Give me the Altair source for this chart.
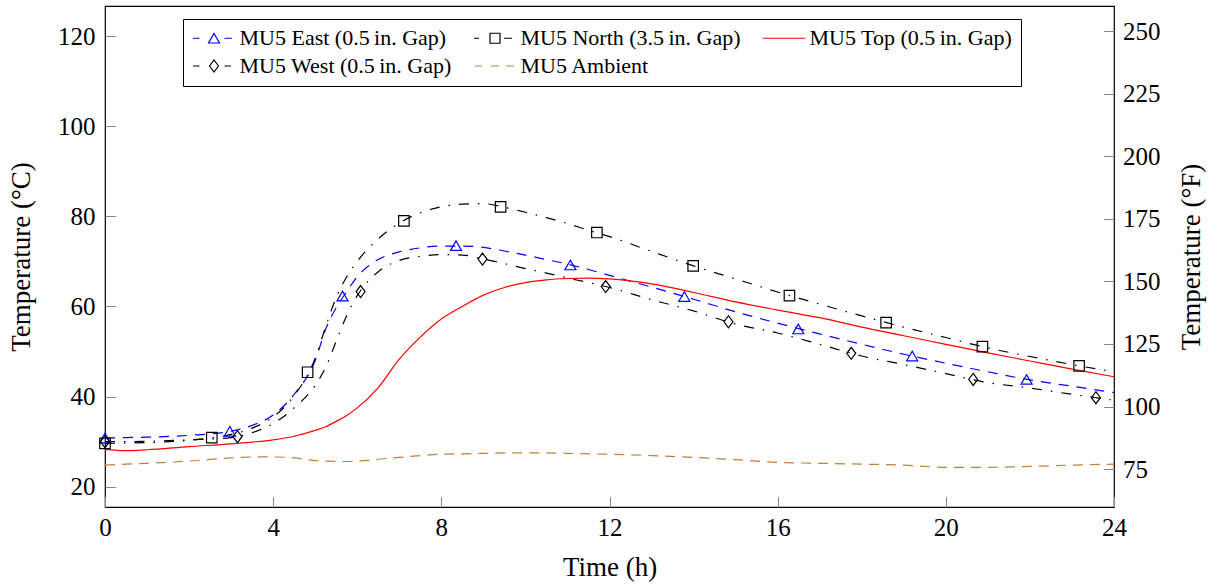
import altair as alt
import pandas as pd

FONT = "Liberation Serif"

TIME = [0, 0.5, 1, 2, 3, 3.5, 4, 4.5, 5, 5.25, 5.5, 5.75, 6, 6.5, 7, 7.5, 8, 8.5, 9, 9.5,
        10, 10.5, 11, 11.5, 12, 13, 14, 15, 16, 17, 18, 19, 20, 21, 22, 23, 24]
EAST = [30.8, 30.9, 31.0, 31.4, 32.3, 33.6, 35.9, 40.5, 48.0, 55.0, 59.7, 63.3, 66.6, 70.4, 72.1,
        73.0, 73.4, 73.4, 73.1, 72.3, 71.4, 70.4, 69.4, 68.2, 66.9, 64.3, 61.6, 58.8, 56.3, 53.9,
        51.6, 49.4, 47.4, 45.5, 43.7, 42.3, 40.9]
NORTH = [29.6, 29.7, 29.8, 30.3, 31.6, 33.0, 35.5, 40.2, 48.5, 55.5, 62.0, 66.6, 70.0, 75.0, 78.5,
         80.8, 82.1, 82.7, 82.8, 82.0, 80.9, 79.7, 78.4, 76.9, 75.5, 72.2, 69.0, 66.1, 63.2, 60.5,
         57.9, 55.4, 53.1, 50.8, 48.9, 47.1, 45.5]
TOP = [28.3, 28.0, 28.2, 28.9, 29.5, 29.9, 30.4, 31.2, 32.5, 33.3, 34.5, 35.8, 37.5, 42.0, 48.3,
       53.2, 57.2, 60.0, 62.5, 64.2, 65.3, 65.9, 66.2, 66.3, 66.1, 65.0, 63.1, 61.0, 59.2, 57.5,
       55.4, 53.5, 51.6, 49.7, 47.9, 46.1, 44.4]
WEST = [30.0, 30.0, 30.1, 30.4, 30.9, 32.0, 34.0, 37.5, 42.5, 46.5, 52.3, 58.0, 62.4, 67.7, 70.2,
        71.1, 71.5, 71.4, 70.5, 69.5, 68.4, 67.4, 66.3, 65.3, 64.2, 61.5, 59.0, 56.1, 54.1, 51.6,
        49.0, 47.1, 45.1, 43.1, 41.9, 40.5, 39.2]
AMBIENT = [24.8, 25.0, 25.2, 25.7, 26.4, 26.6, 26.6, 26.4, 25.8, 25.7, 25.6, 25.6, 25.7, 26.1, 26.5,
           26.9, 27.2, 27.3, 27.4, 27.5, 27.5, 27.5, 27.4, 27.3, 27.2, 26.9, 26.5, 26.0, 25.4, 25.2,
           25.0, 24.8, 24.3, 24.3, 24.5, 24.8, 25.0]

EAST_MK_T = [0, 2.97, 5.65, 8.35, 11.07, 13.78, 16.49, 19.2, 21.92]
EAST_MK_V = [30.8, 32.3, 62.3, 73.5, 69.2, 62.2, 55.0, 49.0, 43.8]
NORTH_MK_T = [0, 2.54, 4.82, 7.11, 9.41, 11.7, 13.99, 16.28, 18.58, 20.87, 23.17]
NORTH_MK_V = [29.6, 30.9, 45.4, 79.0, 82.1, 76.4, 69.0, 62.4, 56.4, 51.1, 46.8]
WEST_MK_T = [0, 3.15, 6.08, 8.98, 11.91, 14.83, 17.75, 20.65, 23.57]
WEST_MK_V = [30.0, 31.1, 63.3, 70.5, 64.4, 56.6, 49.6, 43.8, 39.75]

SERIES = ["MU5 East (0.5\u2009in. Gap)", "MU5 North (3.5\u2009in. Gap)", "MU5 Top (0.5\u2009in. Gap)",
          "MU5 West (0.5\u2009in. Gap)", "MU5 Ambient"]
COLORS = ["#0000ff", "#000000", "#ff0000", "#000000", "#bf8040"]
DASHES = [[10, 8], [10, 9, 1.5, 9], None, [10, 9, 1.5, 9], [10, 7]]
LEGEND_SHAPES = [
    "M-4.2,0H-2.9M2.1,0H3.6M0,-0.95L1.1,0.95L-1.1,0.95Z",
    "M-4.2,0H-3.2M1.8,0H3.4M-1,-1H1V1H-1Z",
    "M-4.3,0H4.3",
    "M-4.2,0H-2.9M2.1,0H3.4M0,-1.2L0.9,0L0,1.2L-0.9,0Z",
    "M-4,0H-2.6M-0.8,0H0.8M2.2,0H3.8",
]
DIAMOND = "M0,-1.2L0.9,0L0,1.2L-0.9,0Z"

X_TICKS = [0, 4, 8, 12, 16, 20, 24]
C_TICKS = [20, 40, 60, 80, 100, 120]
F_TICKS = [75, 100, 125, 150, 175, 200, 225, 250]
C_DOMAIN = [15.5, 126.66]
F_DOMAIN = [59.9, 259.99]

xenc = alt.X("t:Q", scale=alt.Scale(domain=[0, 24], nice=False, zero=False),
             axis=alt.Axis(values=X_TICKS, title="Time (h)", format="d", offset=-10.5, tickSize=10.5,
                           domain=False, grid=False, labelPadding=8, titlePadding=14,
                           labelFlush=False, labelOverlap=False))
yenc = alt.Y("v:Q", scale=alt.Scale(domain=C_DOMAIN, nice=False, zero=False),
             axis=alt.Axis(values=C_TICKS, title="Temperature (°C)", format="d", offset=-10.5,
                           tickSize=10.5, domain=False, grid=False, labelPadding=10, titlePadding=22,
                           labelFlush=False, labelOverlap=False))

layers = []
for vals, col, dash in zip([EAST, NORTH, TOP, WEST, AMBIENT], COLORS, DASHES):
    kw = dict(color=col, strokeWidth=1.2, interpolate="monotone")
    if dash is not None:
        kw["strokeDash"] = dash
    layers.append(alt.Chart(pd.DataFrame({"t": TIME, "v": vals})).mark_line(**kw).encode(x=xenc, y=yenc))

for ts, vs, col, shp, sz in [(EAST_MK_T, EAST_MK_V, "#0000ff", "triangle-up", 121),
                             (NORTH_MK_T, NORTH_MK_V, "#000000", "square", 110),
                             (WEST_MK_T, WEST_MK_V, "#000000", DIAMOND, 100)]:
    layers.append(alt.Chart(pd.DataFrame({"t": ts, "v": vs})).mark_point(
        shape=shp, size=sz, filled=False, color=col, strokeWidth=1.2, opacity=1).encode(x=xenc, y=yenc))

LEG = alt.Legend(title=None, orient="none", legendX=78, legendY=13, columns=3, columnPadding=20,
                 direction="horizontal",
                 rowPadding=5, padding=8.5, fillColor="white", strokeColor="black",
                 labelFont=FONT, labelFontSize=22, labelColor="black", labelLimit=500,
                 symbolSize=100, symbolStrokeWidth=1.2, symbolOffset=11.5, labelOffset=14.5,
                 clipHeight=21, symbolFillColor="transparent")
leg = alt.Chart(pd.DataFrame({"s": SERIES})).transform_filter("false").mark_point(
    size=100, filled=False, opacity=1, strokeWidth=1.2).encode(
    color=alt.Color("s:N", scale=alt.Scale(domain=SERIES, range=COLORS), legend=LEG),
    shape=alt.Shape("s:N", scale=alt.Scale(domain=SERIES, range=LEGEND_SHAPES), legend=LEG))
layers.append(leg)

flayer = alt.Chart(pd.DataFrame({"F": F_TICKS})).mark_point(opacity=0).encode(
    y=alt.Y("F:Q", scale=alt.Scale(domain=F_DOMAIN, nice=False, zero=False),
            axis=alt.Axis(orient="right", values=F_TICKS, title="Temperature (°F)", format="d",
                          offset=-10.5, tickSize=10.5, domain=False, grid=False, labelPadding=8.5,
                          titlePadding=18, titleAngle=270, titleBaseline="top",
                          labelFlush=False, labelOverlap=False)))

chart = alt.layer(alt.layer(*layers), flayer).resolve_scale(y="independent").properties(
    width=1009, height=501,
    autosize=alt.AutoSizeParams(type="none"),
    padding={"left": 105, "top": 6, "right": 105, "bottom": 79},
).configure(font=FONT).configure_view(stroke="black", strokeWidth=1.2).configure_axis(
    labelFont=FONT, titleFont=FONT, labelFontSize=25, titleFontSize=27, labelColor="black",
    titleColor="black", titleFontWeight="normal", tickColor="#888888", tickWidth=1
).configure_legend(strokeWidth=1)

chart.save("out.html", embed_options={"renderer": "svg", "actions": False})
